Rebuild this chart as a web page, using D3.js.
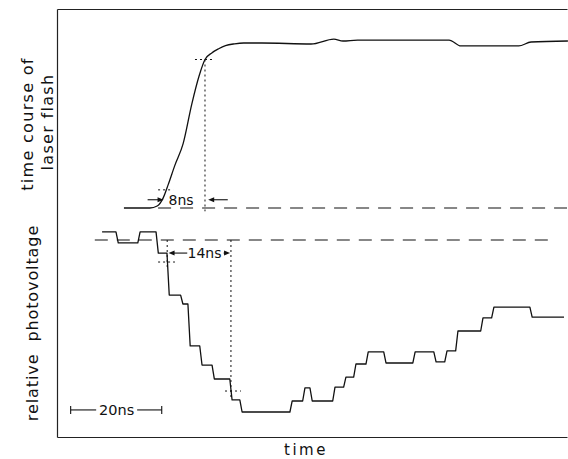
<!DOCTYPE html>
<html>
<head>
<meta charset="utf-8">
<script src="https://cdn.jsdelivr.net/npm/d3@7"></script>
<style>
  body { margin: 0; background: #fff; }
  text { font-family: "DejaVu Sans", sans-serif; fill: #111; }
</style>
</head>
<body>
<svg width="568" height="459"></svg>
<script>
// time in ns, values relative
const flashTime  = [14.7, 20.4, 22.0, 23.3, 24.4, 25.9, 27.7, 29.6, 31.2, 32.5, 34.0, 35.5, 37.0, 39.0, 41.0, 45, 55.8, 60.8, 62.8, 66, 86.1, 88.7, 101.4, 104.1, 112.2];
const flashLevel = [0, 0, 0.012, 0.06, 0.14, 0.26, 0.39, 0.63, 0.8, 0.9, 0.94, 0.965, 0.984, 0.995, 1.0, 1.0, 0.994, 1.024, 1.012, 1.018, 1.018, 0.982, 0.982, 1.006, 1.012];

// step changes of the photovoltage (start time of each level)
const pvTime  = [9.9, 13.2, 18.0, 22.0, 24.4, 27.4, 29.0, 31.6, 34.3, 38.2, 40.4, 51.4, 54.2, 55.8, 60.8, 63.2, 65.4, 68.1, 72.0, 78.4, 83.0, 85.4, 87.8, 93.3, 95.7, 104.1, 111.1];
const pvLevel = [0.047, -0.017, 0.047, -0.076, -0.32, -0.372, -0.616, -0.727, -0.808, -0.93, -1.0, -0.936, -0.86, -0.936, -0.855, -0.797, -0.721, -0.651, -0.715, -0.651, -0.709, -0.645, -0.529, -0.453, -0.39, -0.448, -0.448];

const yLabels = [["time course of", "laser flash"], ["relative  photovoltage"]];
const xLabel = "time";
const riseLabel = "8ns";
const delayLabel = "14ns";
const scaleLabel = "20ns";

const svg = d3.select("svg");
const ink = "#111";

const x = d3.scaleLinear().domain([0, 112]).range([57, 567]);
const yFlash = d3.scaleLinear().domain([0, 1]).range([208, 43]);
const yPv = d3.scaleLinear().domain([-1, 0]).range([412, 240]);
const yFrame = d3.scaleLinear().domain([0, 1]).range([437, 9]);

// frame (left, top, bottom), no ticks
svg.append("g").attr("transform", `translate(${x(0)},0)`)
   .call(d3.axisLeft(yFrame).ticks(0).tickSizeOuter(0));
svg.append("g").attr("transform", `translate(0,${yFrame(1)})`)
   .call(d3.axisTop(x).ticks(0).tickSizeOuter(0));
svg.append("g").attr("transform", `translate(0,${yFrame(0)})`)
   .call(d3.axisBottom(x.copy().domain([0, 111])).ticks(0).tickSizeOuter(0));
svg.selectAll(".domain").attr("stroke", "#222").attr("stroke-width", 1.2);

// dashed reference levels
const dash = (t0, t1, yy) => svg.append("line")
   .attr("x1", x(t0)).attr("x2", x(t1)).attr("y1", yy).attr("y2", yy)
   .attr("stroke", ink).attr("stroke-width", 1.2).attr("stroke-dasharray", "13,9");
dash(22.2, 112, yFlash(0));
dash(8.3, 109, yPv(0));

// laser flash curve
const flashData = flashTime.map((t, i) => [t, flashLevel[i]]);
svg.append("path")
   .attr("d", d3.line().x(d => x(d[0])).y(d => yFlash(d[1])).curve(d3.curveMonotoneX)(flashData))
   .attr("fill", "none").attr("stroke", ink).attr("stroke-width", 1.3);

// photovoltage steps, each edge slightly sloped like the scope trace
const pvData = [];
pvTime.forEach((t, i) => {
  if (i > 0) pvData.push([t - 0.25, pvLevel[i - 1]]);
  pvData.push([i > 0 ? t + 0.25 : t, pvLevel[i]]);
});
svg.append("path")
   .attr("d", d3.line().x(d => x(d[0])).y(d => yPv(d[1]))(pvData))
   .attr("fill", "none").attr("stroke", ink).attr("stroke-width", 1.3)
   .attr("stroke-linejoin", "round");

// dotted helper lines
const dotted = (x1, y1, x2, y2) => svg.append("line")
   .attr("x1", x1).attr("y1", y1).attr("x2", x2).attr("y2", y2)
   .attr("stroke", ink).attr("stroke-width", 1).attr("stroke-dasharray", "2,3");

const arrow = (t0, t1, yy) => {
  const x0 = x(t0), x1 = x(t1), dir = Math.sign(x1 - x0);
  svg.append("line").attr("x1", x0).attr("x2", x1 - dir * 3).attr("y1", yy).attr("y2", yy)
     .attr("stroke", ink).attr("stroke-width", 1.1);
  svg.append("path")
     .attr("d", `M${x1},${yy}L${x1 - dir * 6},${yy - 2.5}L${x1 - dir * 6},${yy + 2.5}Z`)
     .attr("fill", ink);
};

// 8 ns rise time
dotted(x(32.5), yFlash(0.9), x(32.5), yFlash(-0.02));
dotted(x(30.3), yFlash(0.9), x(34.3), yFlash(0.9));
dotted(x(22.2), yFlash(0.11), x(25.5), yFlash(0.11));
arrow(19.9, 23.4, yFlash(0.05));
arrow(37.5, 33.2, yFlash(0.05));
svg.append("text").attr("x", x(24.5)).attr("y", yFlash(0.05) + 5)
   .attr("font-size", 14).text(riseLabel);

// 14 ns delay
dotted(x(24.2), yPv(0), x(24.2), yPv(-0.16));
dotted(x(22.2), yPv(-0.128), x(25.9), yPv(-0.128));
dotted(x(38.2), yPv(0), x(38.2), yPv(-0.93));
dotted(x(36.9), yPv(-0.878), x(40.4), yPv(-0.878));
arrow(28.6, 24.5, yPv(-0.076));
arrow(36.6, 38.0, yPv(-0.076));
svg.append("text").attr("x", x(32.4)).attr("y", yPv(-0.076) + 5)
   .attr("text-anchor", "middle").attr("font-size", 14).text(delayLabel);

// 20 ns scale bar
const sbY = yPv(-0.988);
svg.append("line").attr("x1", x(3)).attr("x2", x(8.6)).attr("y1", sbY).attr("y2", sbY)
   .attr("stroke", ink).attr("stroke-width", 1.1);
svg.append("line").attr("x1", x(17.6)).attr("x2", x(23)).attr("y1", sbY).attr("y2", sbY)
   .attr("stroke", ink).attr("stroke-width", 1.1);
[3, 23].forEach(t => svg.append("line").attr("x1", x(t)).attr("x2", x(t))
   .attr("y1", sbY - 4).attr("y2", sbY + 4).attr("stroke", ink).attr("stroke-width", 1.1));
svg.append("text").attr("x", x(13.1)).attr("y", sbY + 5).attr("text-anchor", "middle")
   .attr("font-size", 14.5).text(scaleLabel);

// axis titles
svg.append("text").attr("transform", `translate(33,124) rotate(-90)`)
   .attr("text-anchor", "middle").attr("font-size", 16).attr("letter-spacing", 1.3)
   .text(yLabels[0][0]);
svg.append("text").attr("transform", `translate(53,122) rotate(-90)`)
   .attr("text-anchor", "middle").attr("font-size", 16).attr("letter-spacing", 1.3)
   .text(yLabels[0][1]);
svg.append("text").attr("transform", `translate(38,323) rotate(-90)`)
   .attr("text-anchor", "middle").attr("font-size", 16).attr("letter-spacing", 0.9)
   .attr("xml:space", "preserve").style("white-space", "pre")
   .text(yLabels[1][0]);
svg.append("text").attr("x", 306).attr("y", 455).attr("text-anchor", "middle")
   .attr("font-size", 15).attr("letter-spacing", 2.5).text(xLabel);
</script>
</body>
</html>
